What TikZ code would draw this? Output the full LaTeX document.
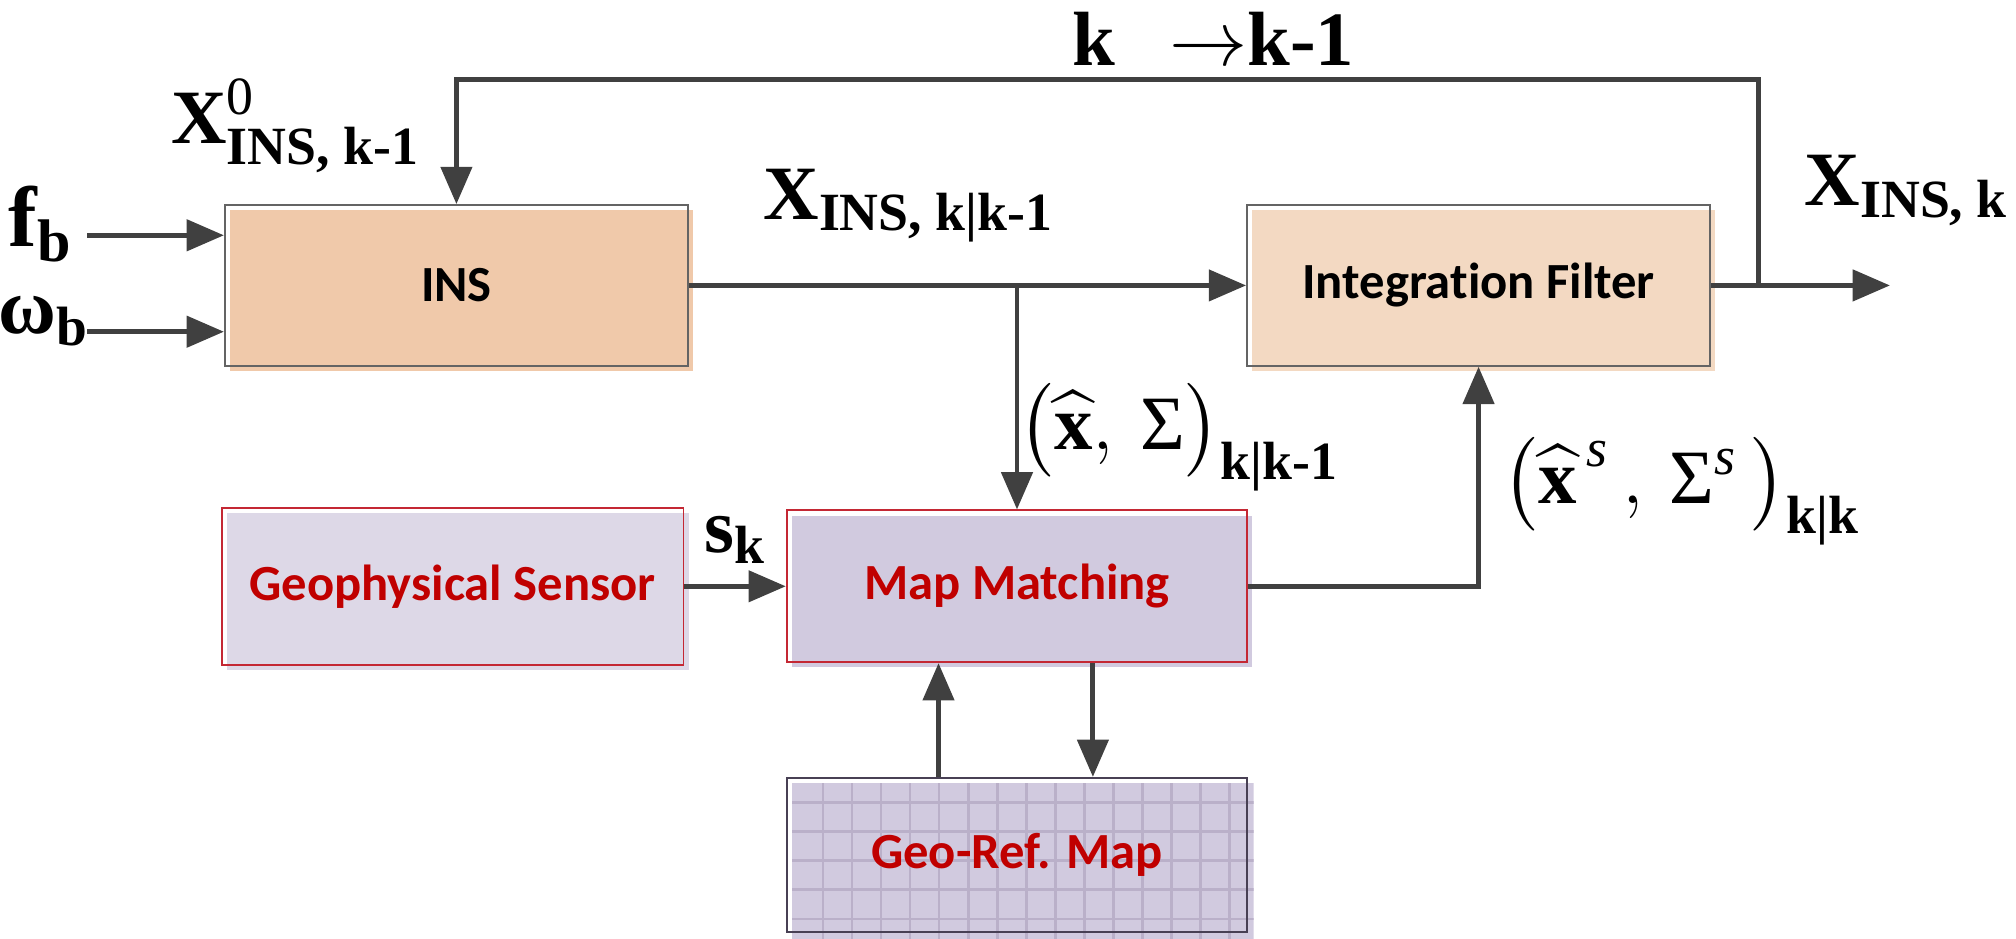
\documentclass[tikz,border=0pt]{standalone}
\usepackage{amsmath}
\usepackage{fontspec}
\setmainfont{Liberation Serif}
\newfontfamily\boxfont[Ligatures=NoCommon]{Carlito}
\usetikzlibrary{arrows.meta,shadows}
\definecolor{insfill}{RGB}{240,201,170}
\definecolor{filtfill}{RGB}{243,217,194}
\definecolor{sensfill}{RGB}{221,216,231}
\definecolor{matchfill}{RGB}{209,202,223}
\definecolor{mapgrid}{RGB}{186,176,201}
\definecolor{boxred}{RGB}{192,0,0}
\definecolor{edgered}{RGB}{196,40,52}
\definecolor{edgegray}{RGB}{100,100,100}
\definecolor{mapedge}{RGB}{72,64,84}
\definecolor{arrgray}{RGB}{64,64,64}
\newcommand{\lbf}[1]{\text{\bfseries #1}}
\begin{document}
\begin{tikzpicture}[x=0.01cm, y=-0.01cm,
    box/.style={minimum width=3.6cm, minimum height=1.25cm, inner sep=0pt,
      draw=edgegray, line width=0.4pt,
      font={\boxfont\bfseries\fontsize{11.2}{13}\selectfont}},
    boxfill/.style={general shadow={fill=#1, shadow xshift=0.04cm, shadow yshift=-0.04cm}},
    redbox/.style={draw=edgered, text=boxred},
    lab/.style={inner sep=0pt, font=\fontsize{17}{20}\selectfont},
    arr/.style={draw=arrgray, line width=1.1pt, -{Triangle[length=2.9mm, width=2.4mm]}}]
  \useasboundingbox (0,0) rectangle (1568,730);
  \clip (0,0) rectangle (1568,730);
  \node[box, boxfill=insfill] (ins) at (355,222) {INS};
  \node[box, boxfill=filtfill] (filt) at (1150,222) {Integration Filter};
  \node[box, redbox, boxfill=sensfill, minimum width=3.59cm, minimum height=1.22cm] (sens) at (352,456) {Geophysical Sensor};
  \node[box, redbox, boxfill=matchfill, minimum width=3.58cm, minimum height=1.18cm] (match) at (791,456) {Map Matching};
  \begin{scope}
    \clip (616,609) rectangle (975,730);
    \fill[matchfill] (616,609) rectangle (975,730);
    \foreach \gx in {640,662.6,...,975} \draw[mapgrid, line width=0.6pt] (\gx,609) -- (\gx,730);
    \foreach \gy in {624.3,646.9,...,730} \draw[mapgrid, line width=0.6pt] (616,\gy) -- (975,\gy);
  \end{scope}
  \node[box, draw=mapedge, text=boxred, minimum width=3.58cm, minimum height=1.2cm] (map) at (791,665) {Geo-Ref. Map};
  \node[lab] (kk) at (944,30) {\bfseries k\hspace{0.7em}$\rightarrow$k-1};
  \node[lab] (xzero) at (230,98) {$\lbf{X}^{\text{0}}_{\lbf{INS, k-1}}$};
  \node[lab, font=\fontsize{19}{22}\selectfont] (fb) at (32,174) {$\lbf{f}_{\lbf{b}}$};
  \node[lab, font=\fontsize{17.5}{21}\selectfont] (wb) at (34,250) {$\lbf{ω}_{\lbf{b}}$};
  \node[lab] (xpred) at (707,160) {$\lbf{X}_{\lbf{INS, k|k-1}}$};
  \node[lab, anchor=west] (xout) at (1403,148) {$\lbf{X}_{\lbf{INS, k}}$};
  \node[lab] (prior) at (917,340) {$\bigl(\widehat{\lbf{x}},\,\text{Σ}\bigr)_{\lbf{k|k-1}}$};
  \node[lab] (post) at (1308,382) {$\bigl(\widehat{\lbf{x}}^{\,\textit{s}}\,,\,\text{Σ}^{\textit{s}}\,\bigr)_{\lbf{k|k}}$};
  \node[lab] (sk) at (572,420) {$\lbf{s}_{\lbf{k}}$};
  \coordinate (fbin) at (68,183);
  \coordinate (wbin) at (68,258);
  \coordinate (tap) at (1368,222);
  \coordinate (out) at (1470,222);
  \coordinate (top) at (355,62);
  \coordinate (br) at (791,222);
  \draw[arr] (fbin) -- (fbin -| ins.west);
  \draw[arr] (wbin) -- (wbin -| ins.west);
  \draw[arr] (ins) -- (filt);
  \draw[arr] (filt) -- (out);
  \draw[arr] (tap) |- (top) -- (ins);
  \draw[arr] (br) -- (match);
  \draw[arr] (sens) -- (match);
  \draw[arr] (match) -| (filt);
  \draw[arr] ([xshift=-0.61cm]map.north) -- ([xshift=-0.61cm]match.south);
  \draw[arr] ([xshift=0.59cm]match.south) -- ([xshift=0.59cm]map.north);
\end{tikzpicture}
\end{document}
